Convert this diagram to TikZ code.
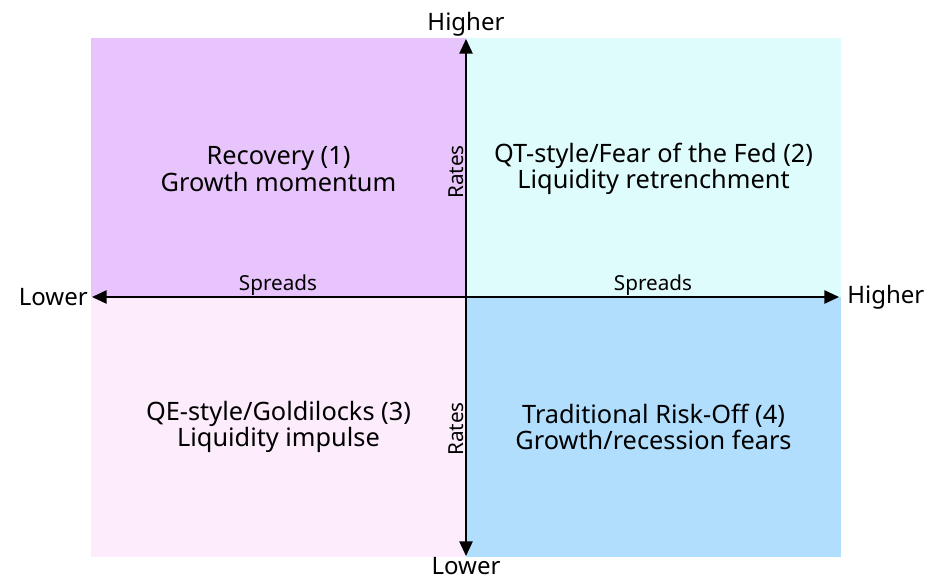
\documentclass[tikz,border=0pt]{standalone}
\usepackage{fontspec}
\setmainfont{Noto Sans}
\usepackage{xcolor}
\usetikzlibrary{arrows.meta,positioning}

\definecolor{recov}{RGB}{232,196,252}
\definecolor{qtfed}{RGB}{222,252,252}
\definecolor{qegold}{RGB}{252,236,252}
\definecolor{riskoff}{RGB}{176,222,252}

\begin{document}
\begin{tikzpicture}[
  x=0.75pt, y=-0.75pt,
  quad/.style={align=center, font=\fontsize{19}{20}\selectfont},
  axislabel/.style={font=\fontsize{15.5}{17}\selectfont, inner sep=0.5pt},
  endlabel/.style={font=\fontsize{18}{20}\selectfont, inner sep=2pt},
  axis/.style={line width=1.1pt, {Triangle[length=11pt,width=10pt]}-{Triangle[length=11pt,width=10pt]}}
]
\useasboundingbox (0,0) rectangle (930,580);

% quadrant backgrounds
\fill[recov] (91,38) rectangle (466,297);
\fill[qtfed] (466,38) rectangle (841,297);
\fill[qegold] (91,297) rectangle (466,557);
\fill[riskoff] (466,297) rectangle (841,557);

% quadrant texts
\node[quad] (recovery) at (278.5,169) {Recovery (1)\\Growth momentum};
\node[quad] (qt) at (653.5,169) {QT-style/Fear of the Fed (2)\\Liquidity retrenchment};
\node[quad] (qe) at (278.5,427) {QE-style/Goldilocks (3)\\Liquidity impulse};
\node[quad] (riskoff) at (653.5,427) {Traditional Risk-Off (4)\\Growth/recession fears};

% axis end points
\coordinate (top) at (466,39);
\coordinate (bottom) at (466,556);
\coordinate (left) at (92,297);
\coordinate (right) at (839,297);

\draw[axis] (bottom) -- (top);
\draw[axis] (left) -- (right);

\node[endlabel, above=0pt of top] (hi-r) {Higher};
\node[endlabel, below=-1pt of bottom] (lo-r) {Lower};
\node[endlabel, left=1pt of left] (lo-s) {Lower};
\node[endlabel, right=4pt of right] (hi-s) {Higher};

% axis names
\node[axislabel, rotate=90, above] (rates-t) at (465,172) {Rates};
\node[axislabel, rotate=90, above] (rates-b) at (465,429) {Rates};
\node[axislabel, above] (spreads-l) at (278,296) {Spreads};
\node[axislabel, above] (spreads-r) at (653,296) {Spreads};
\end{tikzpicture}
\end{document}
